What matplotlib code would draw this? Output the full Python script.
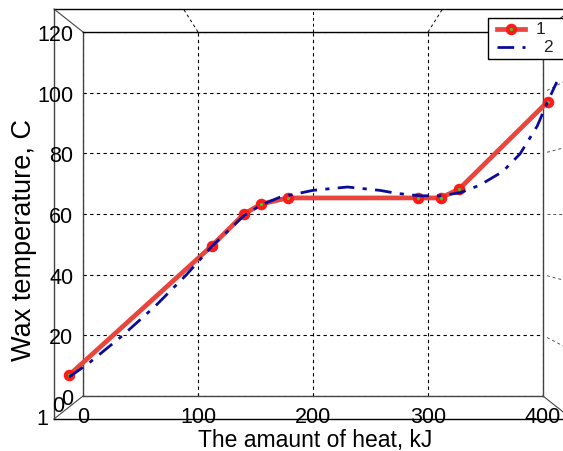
import matplotlib
matplotlib.use("Agg")
import matplotlib.pyplot as plt
from matplotlib.patches import Rectangle

plt.rcParams['font.family'] = ['Liberation Sans', 'DejaVu Sans']

# measured points (curve 1) and smooth fit (curve 2)
heat_pts = [-12, 112, 140, 155, 178, 291, 311, 327, 404]
temp_pts = [6.9, 49.5, 60.0, 63.3, 65.3, 65.3, 65.3, 68.2, 97.0]

heat_fit = [-12, 4, 34, 63, 90, 112, 140, 155, 171, 200, 230, 258, 273,
            293, 310, 328, 345, 365, 380, 395, 404, 412]
temp_fit = [6.3, 10.5, 19.8, 29.7, 40.0, 49.3, 59.5, 63.0, 65.5, 67.8, 68.9,
            67.8, 66.8, 66.0, 66.0, 67.0, 69.5, 74.0, 79.8, 89.0, 97.0, 103.5]

x_ticks = [0, 100, 200, 300, 400]
y_ticks = [0, 20, 40, 60, 80, 100, 120]
legend_labels = ['1', '2']

RED = '#e8453c'
BLUE = '#0b0b9a'

W, H = 563, 452
fig = plt.figure(figsize=(W / 100, H / 100), dpi=100)

# overlay in pixel coords for the 3d box decoration
ov = fig.add_axes([0, 0, 1, 1], zorder=0)
ov.set_xlim(0, W)
ov.set_ylim(0, H)
ov.axis('off')

# front face of the box (pixels, origin bottom-left)
L, R, T, B = 83, 543, H - 33, H - 397
ax = fig.add_axes([L / W, B / H, (R - L) / W, (T - B) / H], zorder=2)
ax.set_facecolor('none')
ax.set_xlim(0, 400)
ax.set_ylim(0, 120)
ax.set_xticks(x_ticks)
ax.set_yticks(y_ticks)
ax.tick_params(length=0, labelsize=15.5, pad=7)
ax.grid(True, color='black', linestyle=(0, (3, 3)), linewidth=0.8)
for s in ax.spines.values():
    s.set_color('#444444')
    s.set_linewidth(1.0)
ax.spines['top'].set_color('black')

ax.plot(heat_pts, temp_pts, color=RED, lw=3.4, marker='o', ms=5.3,
        mfc='#22dd22', mec='#ff1a1a', mew=3, clip_on=False, zorder=3)
ax.plot(heat_fit, temp_fit, color=BLUE, lw=2.0, dashes=(6, 3, 1.5, 3),
        clip_on=False, zorder=4)

# perspective helper around the box centre
cx, cy = (L + R) / 2, (T + B) / 2
k = 1.126

def back(px, py, kk=k):
    return cx + (px - cx) * kk, cy + (py - cy) * kk

bl, tl = back(L, B), back(L, T)
ov.plot([tl[0], tl[0]], [tl[1], bl[1]], color='#444444', lw=1)
ov.plot([tl[0], W], [tl[1], tl[1]], color='black', lw=1)
ov.plot([bl[0], W], [bl[1], bl[1]], color='black', lw=1)
ov.plot([L, tl[0]], [T, tl[1]], color='#444444', lw=0.8)
ov.plot([L, bl[0]], [B, bl[1]], color='#444444', lw=0.8)
kr = (W - cx) / (R - cx)
br = back(R, B, kr)
ov.plot([R, br[0]], [B, br[1]], color='#444444', lw=0.8)
tr = back(R, T)
ov.plot([R, tr[0]], [T, tr[1]], color='#444444', lw=0.8)

# grid continuation on top and right walls
to_px = ax.transData
for xv in x_ticks[1:-1]:
    px, py = to_px.transform((xv, 120))
    qx, qy = back(px, py)
    ov.plot([px, qx], [py, qy], color='black', lw=0.7, linestyle=(0, (3, 3)))
for yv in y_ticks[1:-1]:
    px, py = to_px.transform((400, yv))
    qx, qy = back(px, py, kr)
    ov.plot([px + 4, qx], [py + (qy - py) * 0.2, qy], color='#555555', lw=0.7,
            linestyle=(0, (3, 3)))

# stray tick labels of the hidden axis
ov.text(42, H - 420, '1', fontsize=15.5, ha='center', va='center')
ov.text(58, H - 407, '0', fontsize=15.5, ha='center', va='center')

ov.text(24, H - 240, 'Wax temperature, C', fontsize=19.5, rotation=90,
        ha='center', va='center')
ov.text(315, H - 441, 'The amaunt of heat, kJ', fontsize=16.5,
        ha='center', va='center')

# legend
top = fig.add_axes([0, 0, 1, 1], zorder=5)
top.set_xlim(0, W)
top.set_ylim(0, H)
top.axis('off')
top.add_patch(Rectangle((488, H - 60), 100, 41, facecolor='white',
                        edgecolor='black', lw=1))
top.plot([497, 525], [H - 30, H - 30], color=RED, lw=3.4)
top.plot([511], [H - 30], marker='o', ms=5.3, mfc='#22dd22', mec='#ff1a1a',
         mew=3)
top.plot([497, 525], [H - 48, H - 48], color=BLUE, lw=2.0,
         dashes=(6, 3, 1.5, 3))
top.text(536, H - 30, legend_labels[0], fontsize=12.5, ha='left', va='center',
         color='#222222')
top.text(543, H - 48, legend_labels[1], fontsize=12.5, ha='left', va='center',
         color='#222222')

fig.savefig('out.png', dpi=100)
